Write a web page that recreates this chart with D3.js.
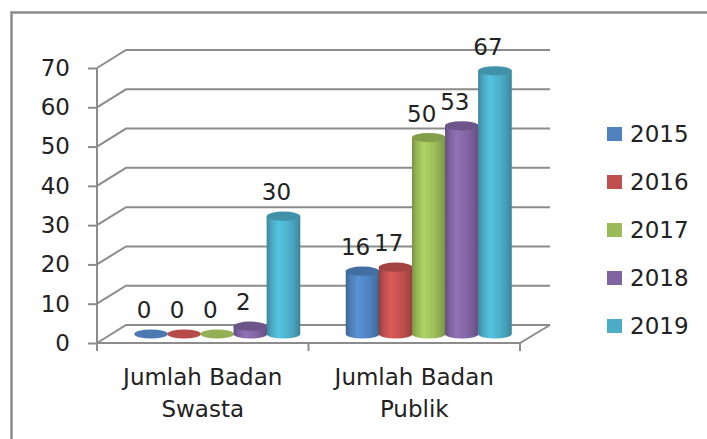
<!DOCTYPE html>
<html><head><meta charset="utf-8">
<script src="https://cdn.jsdelivr.net/npm/d3@7"></script>
<style>html,body{margin:0;padding:0;background:#fff;}svg{display:block;font-family:"DejaVu Sans",Verdana,sans-serif;}</style>
</head><body><svg id="c" width="707" height="439"></svg>
<script>
const categories = [["Jumlah Badan","Swasta"],["Jumlah Badan","Publik"]];
const series = ["2015","2016","2017","2018","2019"];
const v2015 = [0,16];
const v2016 = [0,17];
const v2017 = [0,50];
const v2018 = [2,53];
const v2019 = [30,67];
const yTicks = [0,10,20,30,40,50,60,70];
const colors = ["#4F81BD","#C0504D","#9BBB59","#8064A2","#4BACC6"];
const values = [v2015,v2016,v2017,v2018,v2019];

const svg = d3.select("#c");
const W=707,H=439;
// outer frame (left and top visible)
svg.append("path").attr("d","M11.5,439 L11.5,12.5 L707,12.5").attr("fill","none").attr("stroke","#8a8a8a").attr("stroke-width",2.5);

const DX=29, DY=-18;
const y = d3.scaleLinear().domain([0,70]).range([343,68]);
const catIdx = categories.map((c,i)=>i);
const x = d3.scaleBand().domain(catIdx).range([97,520]);
const sub = d3.scaleBand().domain(series).range([23, x.bandwidth()-23]);
const grid = "#8c8c8c";

const g = svg.append("g");
// gridlines on back wall + side wall
yTicks.forEach(v=>{
  const yy=y(v);
  g.append("path").attr("d",`M97,${yy} L${97+DX},${yy+DY} L${520+DX+1},${yy+DY}`)
   .attr("fill","none").attr("stroke",grid).attr("stroke-width",2);
});
// floor front edge
g.append("path").attr("d",`M97,${y(0)} L520,${y(0)} L${520+DX+1},${y(0)+DY}`)
 .attr("fill","none").attr("stroke",grid).attr("stroke-width",2);

// y axis
const ya = svg.append("g").attr("transform","translate(97,0)")
  .call(d3.axisLeft(y).tickValues(yTicks).tickSize(9).tickPadding(18).tickFormat(d3.format("d")));
ya.select(".domain").attr("stroke",grid).attr("stroke-width",2).attr("d",`M0,${y(70)}V${y(0)+8}`);
ya.selectAll(".tick line").attr("stroke",grid).attr("stroke-width",2);
ya.selectAll(".tick text").attr("font-size",23).attr("fill","#222").attr("font-family","DejaVu Sans");

// x axis ticks
const xTickPos = [97, x(1), 520];
xTickPos.forEach(p=>{
  svg.append("line").attr("x1",p).attr("x2",p).attr("y1",y(0)).attr("y2",y(0)+8).attr("stroke",grid).attr("stroke-width",2);
});
categories.forEach((lines,i)=>{
  const cx = x(i)+x.bandwidth()/2;
  const t = svg.append("text").attr("text-anchor","middle").attr("font-size",23).attr("fill","#222");
  lines.forEach((ln,k)=>t.append("tspan").attr("x",cx).attr("y",385+k*32).text(ln));
});

// gradients
const defs = svg.append("defs");
colors.forEach((c,i)=>{
  const base=d3.rgb(c);
  const gr = defs.append("linearGradient").attr("id","g"+i).attr("x1","0").attr("x2","1").attr("y1","0").attr("y2","0");
  [[0,base.darker(0.7)],[0.12,base.darker(0.15)],[0.35,base.brighter(0.35)],[0.7,base],[0.92,base.darker(0.45)],[1,base.darker(0.8)]]
   .forEach(([o,col])=>gr.append("stop").attr("offset",o).attr("stop-color",col.formatHex()));
});

// bars (cylinders) at mid depth
const rx=16.8, ry=4.6;
const bars = svg.append("g");
const lbls = [];
catIdx.forEach(ci=>{
  series.forEach((s,si)=>{
    const v = values[si][ci];
    const cx = x(ci)+sub(s)+sub.bandwidth()/2+DX/2;
    const base = y(0)+DY/2;
    const top = y(v)+DY/2;
    if (v>0){
      bars.append("path")
        .attr("d",`M${cx-rx},${top} L${cx-rx},${base} A${rx},${ry} 0 0 0 ${cx+rx},${base} L${cx+rx},${top} Z`)
        .attr("fill",`url(#g${si})`);
    }
    bars.append("ellipse").attr("cx",cx).attr("cy",top).attr("rx",rx).attr("ry",ry)
      .attr("fill", v>0 ? d3.rgb(colors[si]).darker(0.45).formatHex() : d3.rgb(colors[si]).darker(0.15).formatHex());
    lbls.push({x:cx-7,y:top-16,t:String(v)});
  });
});
svg.append("g").selectAll("text").data(lbls).join("text")
  .attr("x",d=>d.x).attr("y",d=>d.y).attr("text-anchor","middle").attr("font-size",23).attr("fill","#222").text(d=>d.t);

// legend
const lg = svg.append("g");
series.forEach((s,i)=>{
  const by = 142+i*48;
  lg.append("rect").attr("x",607).attr("y",by-15).attr("width",15).attr("height",14).attr("fill",colors[i]);
  lg.append("text").attr("x",630).attr("y",by).attr("font-size",23).attr("fill","#222").text(s);
});
</script></body></html>
